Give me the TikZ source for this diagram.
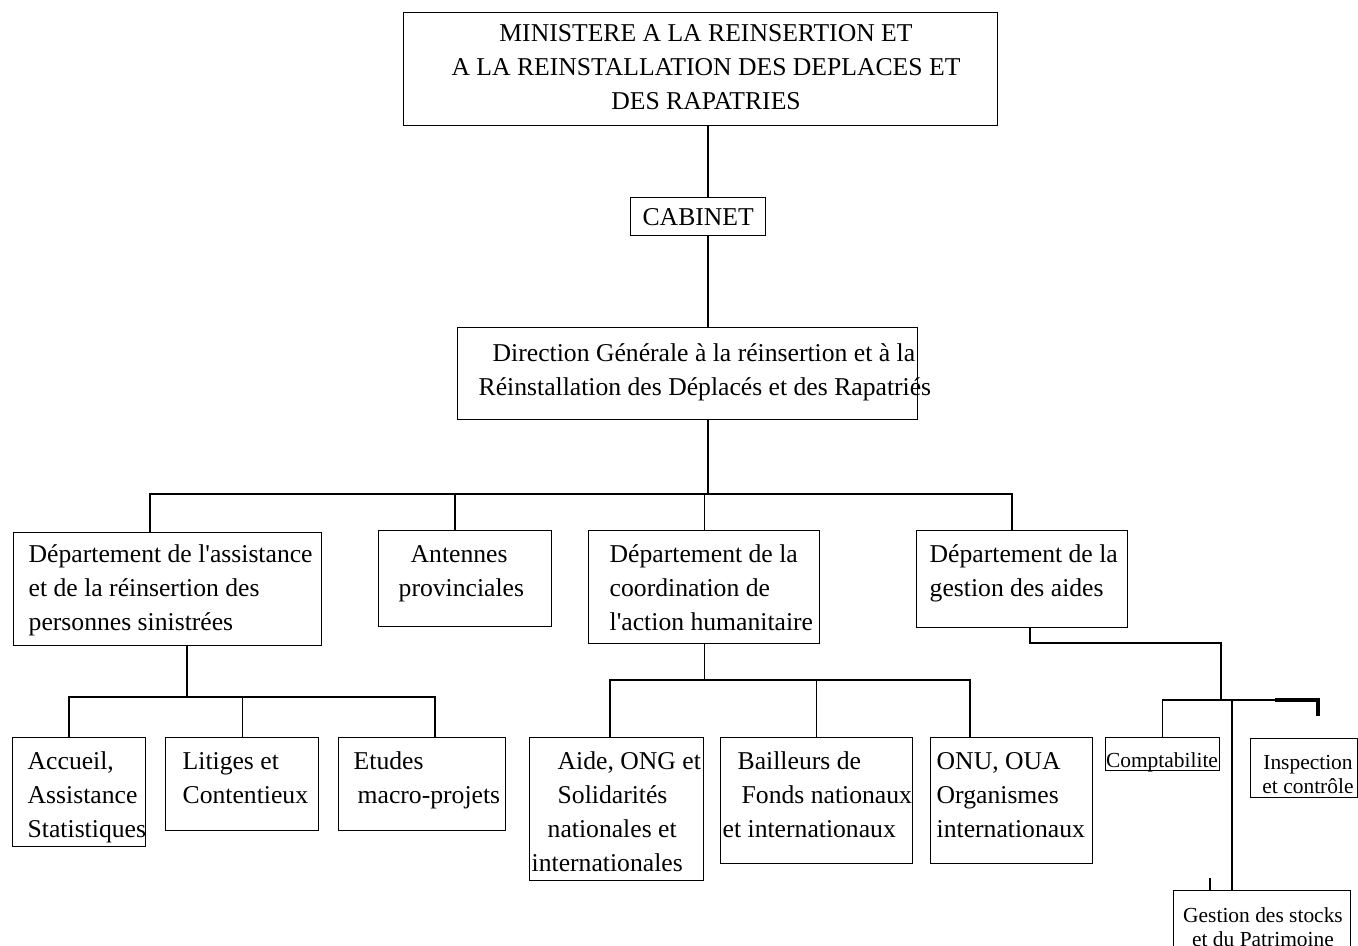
\documentclass[tikz,border=0pt]{standalone}
\usepackage{fontspec}
\setmainfont{Liberation Serif}
\usetikzlibrary{positioning}

\begin{document}
\begin{tikzpicture}[line width=0.8pt,
  box/.style={draw, inner sep=0pt, anchor=north west},
  txt/.style={inner sep=0pt, align=left, font=\fontsize{14.6}{19.3}\selectfont},
  smalltxt/.style={inner sep=0pt, align=center, font=\fontsize{12.2}{13.6}\selectfont}]
%%Frame
\useasboundingbox (0,0) rectangle (27.16,-18.9);
\clip (0,0) rectangle (27.16,-18.9);
%%Boxes
\node[box, minimum width=11.88cm, minimum height=2.26cm] (min) at (8.06,-0.24) {};
\node[box, minimum width=2.7cm, minimum height=0.76cm, font=\fontsize{14.6}{19.3}\selectfont] (cab) at (12.6,-3.94) {CABINET};
\node[box, minimum width=9.2cm, minimum height=1.84cm] (dg) at (9.14,-6.54) {};
\node[box, minimum width=6.16cm, minimum height=2.26cm] (dassist) at (0.26,-10.64) {};
\node[box, minimum width=3.46cm, minimum height=1.92cm] (antennes) at (7.56,-10.6) {};
\node[box, minimum width=4.62cm, minimum height=2.26cm] (dcoord) at (11.76,-10.6) {};
\node[box, minimum width=4.22cm, minimum height=1.94cm] (dgestion) at (18.32,-10.6) {};
\node[box, minimum width=2.66cm, minimum height=2.18cm] (accueil) at (0.24,-14.74) {};
\node[box, minimum width=3.06cm, minimum height=1.86cm] (litiges) at (3.3,-14.74) {};
\node[box, minimum width=3.34cm, minimum height=1.86cm] (etudes) at (6.76,-14.74) {};
\node[box, minimum width=3.48cm, minimum height=2.86cm] (aide) at (10.58,-14.74) {};
\node[box, minimum width=3.84cm, minimum height=2.52cm] (bailleurs) at (14.4,-14.74) {};
\node[box, minimum width=3.24cm, minimum height=2.52cm] (onu) at (18.6,-14.74) {};
\node[box, minimum width=2.28cm, minimum height=0.66cm] (compta) at (22.1,-14.74) {};
\node[box, minimum width=2.14cm, minimum height=1.18cm] (inspect) at (25.0,-14.76) {};
\node[box, minimum width=3.54cm, minimum height=1.4cm] (stocks) at (23.46,-17.8) {};
%%Labels (anchored on the last line)
\node[txt, align=center, anchor=base] (min-t) at (14.12,-2.18) {MINISTERE A LA REINSERTION ET\\A LA REINSTALLATION DES DEPLACES ET\\DES RAPATRIES};
\node[txt, anchor=base west] (dg-t) at (9.56,-7.9) {\hspace*{0.28cm}Direction Générale à la réinsertion et à la\\Réinstallation des Déplacés et des Rapatriés};
\node[txt, anchor=base west] (dassist-t) at (0.56,-12.6) {Département de l\textquotesingle assistance\\et de la réinsertion des\\personnes sinistrées};
\node[txt, anchor=base west] (antennes-t) at (7.96,-11.92) {\hspace*{0.24cm}Antennes\\provinciales};
\node[txt, anchor=base west] (dcoord-t) at (12.18,-12.6) {Département de la\\coordination de\\l\textquotesingle action humanitaire};
\node[txt, anchor=base west] (dgestion-t) at (18.58,-11.92) {Département de la\\gestion des aides};
\node[txt, anchor=base west] (accueil-t) at (0.54,-16.74) {Accueil,\\Assistance\\Statistiques};
\node[txt, anchor=base west] (litiges-t) at (3.64,-16.06) {Litiges et\\Contentieux};
\node[txt, anchor=base west] (etudes-t) at (7.06,-16.06) {Etudes\\\hspace*{0.08cm}macro-projets};
\node[txt, anchor=base west] (aide-t) at (10.62,-17.42) {\hspace*{0.52cm}Aide, ONG et\\\hspace*{0.52cm}Solidarités\\\hspace*{0.32cm}nationales et\\internationales};
\node[txt, anchor=base west] (bailleurs-t) at (14.44,-16.74) {\hspace*{0.3cm}Bailleurs de\\\hspace*{0.38cm}Fonds nationaux\\et internationaux};
\node[txt, anchor=base west] (onu-t) at (18.72,-16.74) {ONU, OUA\\Organismes\\internationaux};
\node[smalltxt, anchor=base] (compta-t) at (23.24,-15.34) {Comptabilite};
\node[smalltxt, anchor=base] (inspect-t) at (26.16,-15.86) {Inspection\\et contrôle};
\node[smalltxt, anchor=base] (stocks-t) at (25.26,-18.92) {Gestion des stocks\\et du Patrimoine};
%%Spine
\coordinate (spine) at (14.16,0);
\draw (min.south -| spine) -- (cab.north -| spine);
\draw (cab.south -| spine) -- (dg.north -| spine);
%%Departments
\coordinate (j1) at (3.0,-9.88);
\coordinate (j2) at (9.1,-9.88);
\coordinate (j4) at (20.24,-9.88);
\draw (dg.south -| spine) -- (spine |- j1);
\draw (j1 |- dassist.north) -- (j1) -- (j4) -- (j4 |- dgestion.north);
\draw (j2) -- (j2 |- antennes.north);
\draw (dcoord.north) -- (dcoord.north |- j1);
%%Assistance
\coordinate (k0) at (3.74,-13.94);
\coordinate (k1) at (1.38,-13.94);
\coordinate (k3) at (8.7,-13.94);
\draw (dassist.south -| k0) -- (k0);
\draw (k1 |- accueil.north) -- (k1) -- (k3) -- (k3 |- etudes.north);
\draw (litiges.north) -- (litiges.north |- k1);
%%Coordination
\coordinate (m1) at (12.2,-13.6);
\coordinate (m3) at (19.4,-13.6);
\draw (dcoord.south) -- (dcoord.south |- m1);
\draw (m1 |- aide.north) -- (m1) -- (m3) -- (m3 |- onu.north);
\draw (bailleurs.north) -- (bailleurs.north |- m1);
%%Gestion
\coordinate (g0) at (20.6,-12.86);
\coordinate (g1) at (24.42,-14.0);
\coordinate (g2) at (25.5,-14.0);
\coordinate (g3) at (24.64,-14.0);
\coordinate (g4) at (26.36,-14.32);
\coordinate (g5) at (24.2,-17.56);
\draw (dgestion.south -| g0) -- (g0) -| (g1);
\draw (compta.north) |- (g2);
\draw[line width=2.2pt] (g2) -| (g4);
\draw (g3) -- (g3 |- stocks.north);
\draw (g5) -- (g5 |- stocks.north);
\end{tikzpicture}
\end{document}
